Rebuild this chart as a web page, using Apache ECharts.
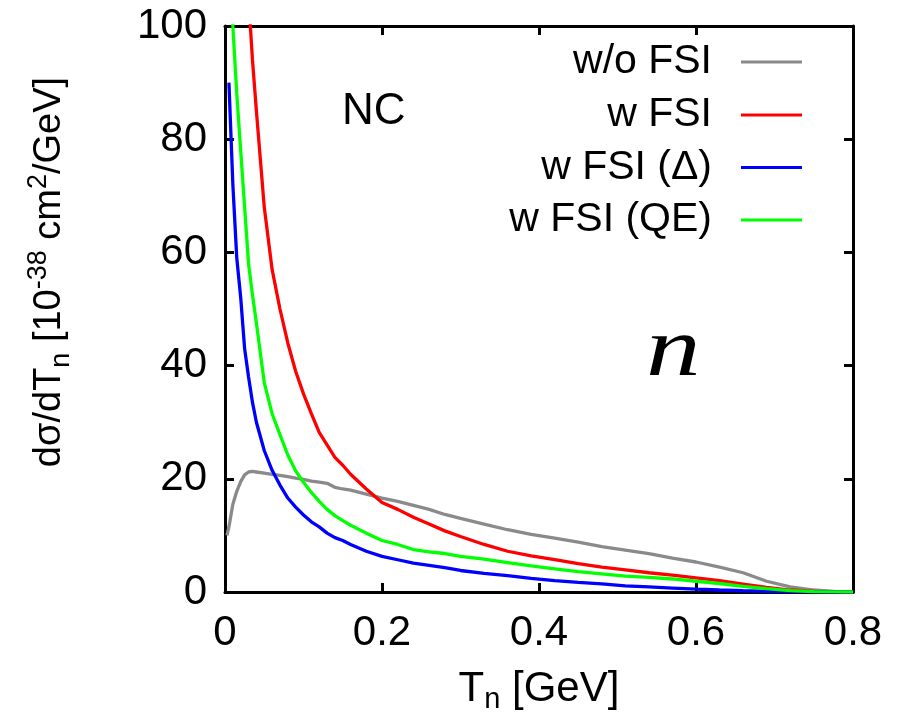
<!DOCTYPE html>
<html>
<head>
<meta charset="utf-8">
<script src="https://cdn.jsdelivr.net/npm/echarts@6/dist/echarts.min.js"></script>
<style>
html,body{margin:0;padding:0;background:#fff;}
#chart{width:899px;height:727px;}
</style>
</head>
<body>
<div id="chart"></div>
<script>
// T_n [GeV]
const T = [0.0025, 0.005, 0.01, 0.015, 0.02, 0.025, 0.03, 0.035, 0.04, 0.05, 0.06, 0.07, 0.08, 0.09, 0.10, 0.11, 0.12, 0.13, 0.14, 0.15, 0.16, 0.18, 0.20, 0.22, 0.24, 0.26, 0.28, 0.30, 0.33, 0.36, 0.39, 0.42, 0.45, 0.48, 0.51, 0.54, 0.57, 0.60, 0.63, 0.66, 0.69, 0.72, 0.75, 0.78, 0.80];
// w/o FSI
const woFSI = [10.0, 11.5, 15.5, 17.8, 19.5, 20.7, 21.2, 21.3, 21.2, 21.0, 20.8, 20.6, 20.4, 20.1, 19.9, 19.6, 19.4, 19.2, 18.5, 18.2, 18.0, 17.3, 16.6, 16.0, 15.3, 14.6, 13.7, 13.0, 12.0, 11.0, 10.2, 9.5, 8.8, 8.0, 7.4, 6.8, 6.0, 5.3, 4.4, 3.4, 1.9, 0.9, 0.35, 0.05, 0];
// w FSI
const wFSI = [300, 250, 200, 165, 140, 120, 105, 94, 85, 68, 57, 50, 44, 39, 35, 31.5, 28.2, 26, 23.8, 22.4, 20.8, 18.2, 15.8, 14.6, 13.2, 12.0, 10.8, 9.8, 8.4, 7.2, 6.4, 5.7, 5.0, 4.4, 3.9, 3.4, 3.0, 2.5, 2.0, 1.4, 0.8, 0.35, 0.12, 0.02, 0];
// w FSI (Delta)
const wFSIDelta = [null, 90, 72, 59, 52, 43, 38, 33.5, 30, 25, 21.5, 18.9, 16.6, 15.0, 13.6, 12.4, 11.5, 10.4, 9.6, 9.1, 8.4, 7.2, 6.3, 5.7, 5.1, 4.7, 4.3, 3.8, 3.3, 2.9, 2.4, 2.0, 1.7, 1.45, 1.1, 0.9, 0.7, 0.5, 0.35, 0.22, 0.12, 0.06, 0.02, 0.0, 0];
// w FSI (QE)
const wFSIQE = [150, 125, 100, 88, 78, 68, 58, 52.5, 47.5, 37, 31.5, 27.8, 24.2, 21.4, 19.4, 17.6, 16.0, 14.6, 13.5, 12.6, 11.8, 10.4, 9.1, 8.4, 7.5, 7.1, 6.8, 6.3, 5.8, 5.2, 4.6, 4.1, 3.6, 3.2, 2.8, 2.6, 2.3, 1.9, 1.5, 1.0, 0.6, 0.25, 0.08, 0.02, 0];

const seriesNames = ['w/o FSI', 'w FSI', 'w FSI (\u0394)', 'w FSI (QE)'];
const seriesValues = [woFSI, wFSI, wFSIDelta, wFSIQE];
const seriesColors = ['#8a8a8a', '#ff0000', '#0000ff', '#00ff00'];

const FONT = 'Liberation Sans';
const chart = echarts.init(document.getElementById('chart'), null, {renderer: 'canvas'});

const axisCommon = {
  axisLine: {show: true, onZero: false, lineStyle: {color: '#000', width: 3}},
  axisTick: {show: true, inside: true, length: 9, lineStyle: {color: '#000', width: 3}},
  splitLine: {show: false}
};

const legendRowsY = [62, 115, 167.5, 220];
const legends = seriesNames.map((n, i) => ({
  data: [n],
  orient: 'vertical',
  align: 'right',
  right: 97,
  top: legendRowsY[i] - 21,
  padding: 0,
  icon: 'rect',
  itemWidth: 61,
  itemHeight: 3,
  selectedMode: false,
  textStyle: {fontFamily: FONT, fontSize: 41, color: '#000', lineHeight: 42, padding: [0, 24, 0, 0]}
}));

chart.setOption({
  animation: false,
  backgroundColor: '#fff',
  grid: {left: 225, right: 46, top: 26, bottom: 135, containLabel: false},
  legend: legends,
  xAxis: [
    Object.assign({
      type: 'value', min: 0, max: 0.8, interval: 0.2, position: 'bottom',
      name: 'T{sub|n} [GeV]', nameLocation: 'middle', nameGap: 72,
      nameTextStyle: {fontFamily: FONT, fontSize: 42, color: '#000', lineHeight: 50,
        rich: {sub: {fontFamily: FONT, fontSize: 29, lineHeight: 29, verticalAlign: 'bottom', color: '#000'}}},
      axisLabel: {show: true, margin: 20, fontFamily: FONT, fontSize: 42, color: '#000',
        formatter: v => (v === 0 ? '0' : v.toFixed(1))}
    }, axisCommon),
    Object.assign({
      type: 'value', min: 0, max: 0.8, interval: 0.2, position: 'top',
      axisLabel: {show: false}
    }, axisCommon)
  ],
  yAxis: [
    Object.assign({
      type: 'value', min: 0, max: 100, interval: 20, position: 'left',
      name: 'd\u03c3/dT{sub|n} [10{sup|-38} cm{sup|2}/GeV]', nameLocation: 'middle', nameGap: 150, nameRotate: 90,
      nameTextStyle: {fontFamily: FONT, fontSize: 38, color: '#000', lineHeight: 50, padding: [0, 0, 0, 74],
        rich: {
          sub: {fontFamily: FONT, fontSize: 27, lineHeight: 27, verticalAlign: 'bottom', color: '#000'},
          sup: {fontFamily: FONT, fontSize: 27, lineHeight: 27, verticalAlign: 'top', color: '#000'}
        }},
      axisLabel: {show: true, margin: 18, fontFamily: FONT, fontSize: 42, color: '#000'}
    }, axisCommon),
    Object.assign({
      type: 'value', min: 0, max: 100, interval: 20, position: 'right',
      axisLabel: {show: false}
    }, axisCommon)
  ],
  graphic: [
    {type: 'text', left: 342, top: 90, silent: true,
      style: {text: 'NC', fontFamily: FONT, fontSize: 44, fill: '#000'}},
    {type: 'text', x: 646, y: 353, scaleX: 1.3, silent: true,
      style: {text: 'n', fontFamily: 'Liberation Serif', fontStyle: 'italic', fontSize: 84, fill: '#000',
        align: 'left', verticalAlign: 'middle'}}
  ],
  series: seriesNames.map((n, i) => ({
    name: n,
    type: 'line',
    xAxisIndex: 0,
    yAxisIndex: 0,
    data: T.map((t, k) => [t, seriesValues[i][k]]),
    showSymbol: false,
    symbol: 'none',
    clip: true,
    color: seriesColors[i],
    lineStyle: {color: seriesColors[i], width: 3.3},
    z: 3
  }))
});
</script>
</body>
</html>
